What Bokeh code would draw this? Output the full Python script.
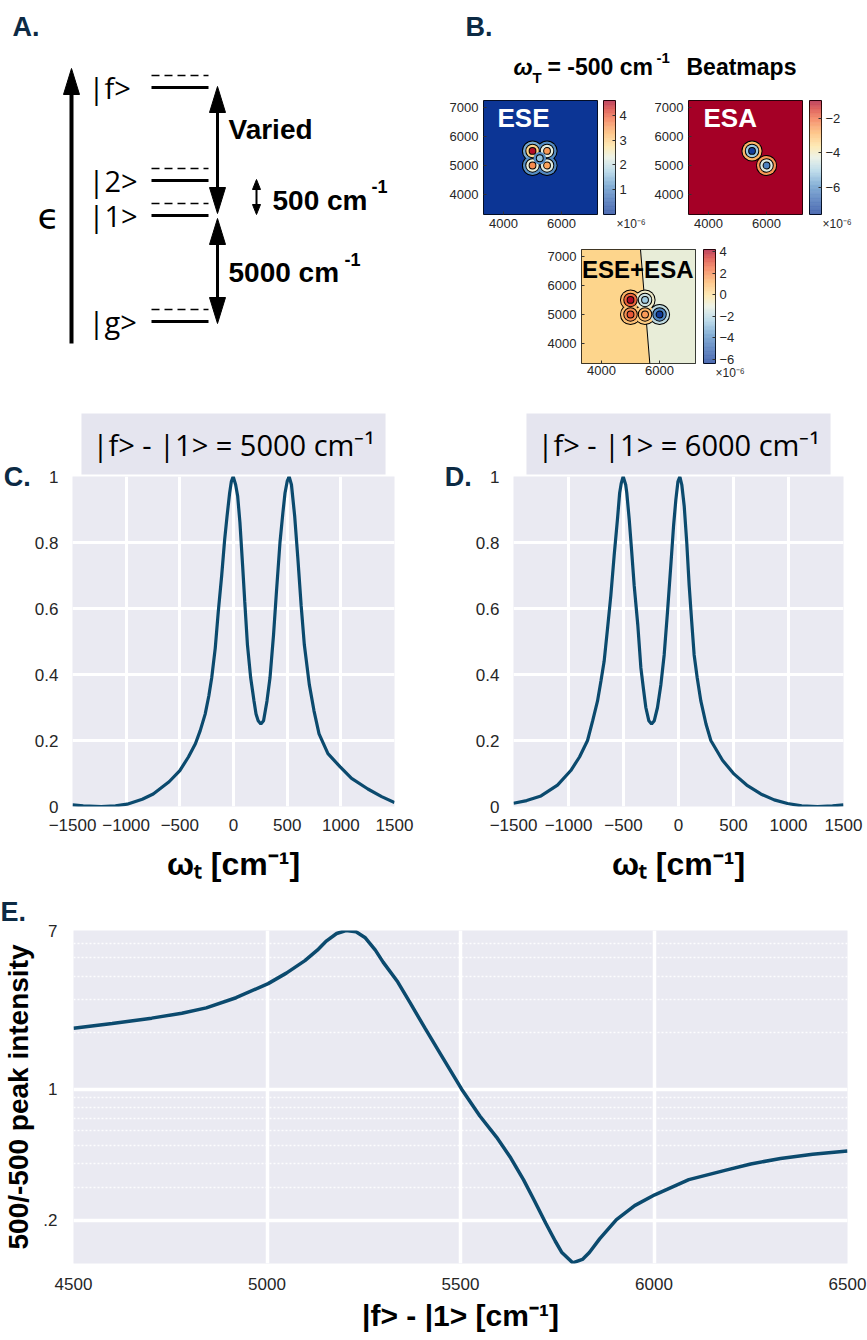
import numpy as np
from bokeh.plotting import figure
from bokeh.models import Range1d, FixedTicker, ColumnDataSource, Spacer, LinearColorMapper
from bokeh.layouts import column, row
from bokeh.transform import transform
from bokeh.core.properties import value
from bokeh.embed import file_html
from bokeh.resources import INLINE

# ---------------- data ----------------
# Panel A (energy-level scheme)
level_names = ["|g>", "|1>", "|2>", "|f>"]
gap_text_low = "5000 cm"
gap_text_mid = "500 cm"
gap_text_high = "Varied"

# Panel B (beatmaps, values x 1e-6)
bm_ticks_x = [4000, 6000]
bm_ticks_y = [4000, 5000, 6000, 7000]
bm_lo, bm_hi = 3310, 7240
ese_lim = [0.0, 4.6]
ese_ticks = [1, 2, 3, 4]
ese_bg = 0.03
ese_px = [5000, 5500, 5000, 5500, 5250]
ese_py = [5500, 5500, 5000, 5000, 5250]
ese_pv = [4.5, 3.5, 3.6, 3.4, 1.6]
esa_lim = [-7.6, -0.94]
esa_ticks = [-6, -4, -2]
esa_bg = -0.94
esa_px = [5500, 6000]
esa_py = [5500, 5000]
esa_pv = [-7.4, -6.2]
sum_lim = [-6.4, 4.2]
sum_ticks = [-6, -4, -2, 0, 2, 4]
sum_bg_left, sum_bg_right = 0.3, -1.0
sum_split_top, sum_split_bottom = 5344, 5665
sum_px = [5000, 5000, 5500, 5500, 6000]
sum_py = [5500, 5000, 5000, 5500, 5000]
sum_pv = [4.0, 2.8, 1.6, -2.5, -6.2]

# Panel C
c_x = [-1500, -1400, -1233, -1100, -991, -850, -748, -600, -500, -420, -355, -310, -264, -230, -203,
       -170, -142, -110, -82, -60, -36, -20, -3, 20, 39, 60, 85, 105, 130, 160, 191, 210, 230, 255,
       280, 312, 340, 373, 400, 433, 460, 480, 500, 518, 540, 570, 600, 630, 660, 706, 750, 797, 880,
       994, 1100, 1252, 1380, 1500]
c_y = [0.005, 0.002, 0.0, 0.002, 0.007, 0.022, 0.038, 0.075, 0.109, 0.15, 0.19, 0.23, 0.28, 0.335,
       0.39, 0.48, 0.59, 0.70, 0.81, 0.88, 0.95, 0.985, 1.0, 0.975, 0.94, 0.86, 0.73, 0.62, 0.49,
       0.39, 0.32, 0.28, 0.26, 0.25, 0.26, 0.32, 0.39, 0.52, 0.65, 0.80, 0.89, 0.95, 0.985, 1.0, 0.975,
       0.88, 0.75, 0.61, 0.49, 0.37, 0.29, 0.22, 0.16, 0.12, 0.085, 0.053, 0.03, 0.012]
# Panel D
d_x = [-1500, -1380, -1250, -1100, -979, -900, -827, -780, -736, -705, -676, -645, -615, -585,
       -555, -535, -520, -503, -480, -470, -448, -425, -403, -370, -342, -320, -297, -270, -245,
       -220, -191, -160, -130, -100, -70, -45, -24, -5, 12, 30, 52, 75, 97, 120, 142, 170, 203,
       250, 294, 400, 506, 620, 748, 870, 991, 1120, 1264, 1400, 1500]
d_y = [0.010, 0.018, 0.032, 0.065, 0.109, 0.15, 0.20, 0.26, 0.32, 0.38, 0.44, 0.54, 0.64, 0.76,
       0.87, 0.95, 0.98, 1.0, 0.975, 0.95, 0.87, 0.77, 0.67, 0.55, 0.42, 0.36, 0.30, 0.26, 0.25,
       0.26, 0.30, 0.37, 0.46, 0.59, 0.73, 0.85, 0.93, 0.985, 1.0, 0.975, 0.91, 0.80, 0.67, 0.56,
       0.46, 0.39, 0.32, 0.25, 0.20, 0.14, 0.098, 0.065, 0.038, 0.02, 0.009, 0.002, 0.0, 0.002, 0.005]
cd_xticks = [-1500, -1000, -500, 0, 500, 1000, 1500]
cd_yticks = [0, 0.2, 0.4, 0.6, 0.8, 1.0]

# Panel E
e_x = [4500, 4600, 4702, 4780, 4843, 4920, 5003, 5050, 5098, 5130, 5154, 5180, 5204, 5230, 5253,
       5280, 5300, 5338, 5370, 5409, 5450, 5503, 5550, 5593, 5630, 5663, 5690, 5720, 5745, 5762,
       5790, 5815, 5833, 5860, 5903, 5950, 6002, 6090, 6186, 6250, 6327, 6410, 6500]
e_y = [2.11, 2.24, 2.39, 2.54, 2.71, 3.07, 3.65, 4.15, 4.84, 5.5, 6.17, 6.75, 7.0, 6.9, 6.43,
       5.5, 4.75, 3.72, 2.88, 2.1, 1.52, 1.0, 0.72, 0.556, 0.43, 0.329, 0.257, 0.194, 0.155, 0.135,
       0.119, 0.124, 0.135, 0.16, 0.202, 0.24, 0.274, 0.33, 0.371, 0.40, 0.428, 0.45, 0.469]
e_xticks = [4500, 5000, 5500, 6000, 6500]
e_yticks = [0.2, 1, 7]
e_yminor = [0.3, 0.4, 0.5, 0.6, 0.7, 0.8, 0.9, 2, 3, 4, 5, 6]

# ---------------- style ----------------
SANS = "Liberation Sans"
BG = "#eaeaf2"
LINE = "#0b4a6e"
PANEL_COL = "#0c2a44"
TICK_COL = "#262626"

stops = [0.0, 0.12, 0.25, 0.38, 0.5, 0.6, 0.72, 0.84, 0.93, 1.0]
stop_cols = ["#0b3494", "#2f5fad", "#5b93c7", "#a6cfe3", "#e6eedf", "#fde29a",
             "#fdb163", "#f16a3e", "#d22d26", "#a50026"]
rgb = np.array([[int(c[i:i + 2], 16) for i in (1, 3, 5)] for c in stop_cols], float)
tt = np.linspace(0, 1, 256)
palette = ["#%02x%02x%02x" % tuple(int(round(np.interp(t, stops, rgb[:, k]))) for k in range(3)) for t in tt]


def try_set(obj, **kw):
    for k, v in kw.items():
        try:
            setattr(obj, k, v)
        except Exception:
            pass


def blank_fig(w, h):
    p = figure(width=w, height=h, x_range=Range1d(0, w), y_range=Range1d(h, 0),
               x_axis_location=None, y_axis_location=None, min_border=0,
               output_backend="svg", toolbar_location=None)
    p.grid.visible = False
    p.outline_line_color = None
    return p


def head(x, tip, direction, w, l):
    base = tip - direction * l
    return [x, x - w / 2, x + w / 2], [tip, base, base]


# ---------------- Panel A ----------------
pa = blank_fig(430, 380)
lvl_y = [321, 215, 180, 87]
pa.segment(x0=151, x1=208, y0=lvl_y, y1=lvl_y, line_width=3, line_color="black")
dash_y = [y - 12 for y in lvl_y]
pa.segment(x0=151, x1=208, y0=dash_y, y1=dash_y, line_width=1.3, line_color="black", line_dash="8 5")
pa.text(x=[88] * 4, y=lvl_y, text=level_names, text_font=value("Open Sans"),
        text_font_size="29px", text_baseline="middle", text_color="black")
hx, hy = [], []
pa.segment(x0=[71], x1=[71], y0=[343], y1=[90], line_width=4, line_color="black")
a = head(71, 68, -1, 16, 26); hx.append(a[0]); hy.append(a[1])
pa.segment(x0=[217], x1=[217], y0=[108], y1=[192], line_width=3, line_color="black")
a = head(217, 86, -1, 16, 26); hx.append(a[0]); hy.append(a[1])
a = head(217, 213, 1, 16, 26); hx.append(a[0]); hy.append(a[1])
pa.segment(x0=[217], x1=[217], y0=[240], y1=[300], line_width=3, line_color="black")
a = head(217, 218, -1, 16, 26); hx.append(a[0]); hy.append(a[1])
a = head(217, 323, 1, 16, 26); hx.append(a[0]); hy.append(a[1])
pa.segment(x0=[256], x1=[256], y0=[186], y1=[207], line_width=2, line_color="black")
a = head(256, 179, -1, 8, 10); hx.append(a[0]); hy.append(a[1])
a = head(256, 214, 1, 8, 10); hx.append(a[0]); hy.append(a[1])
pa.patches(xs=hx, ys=hy, fill_color="black", line_color="black", line_width=1)
pa.text(x=[228], y=[129], text=[gap_text_high], text_font=value(SANS), text_font_style="bold",
        text_font_size="28px", text_baseline="middle")
pa.text(x=[272, 228], y=[200, 272], text=[gap_text_mid, gap_text_low], text_font=value(SANS),
        text_font_style="bold", text_font_size="28px", text_baseline="middle")
pa.text(x=[371, 344], y=[186, 259], text=["-1", "-1"], text_font=value(SANS),
        text_font_style="bold", text_font_size="18px", text_baseline="middle")
pa.text(x=[48], y=[216], text=["\u03f5"], text_font=value("DejaVu Sans"), text_font_size="36px",
        text_align="center", text_baseline="middle")
pa.text(x=[12], y=[26], text=["A."], text_font=value(SANS), text_font_style="bold",
        text_font_size="27px", text_baseline="middle", text_color=PANEL_COL)

# ---------------- Panel B header ----------------
pbh = blank_fig(437, 95)
pbh.text(x=[35], y=[26], text=["B."], text_font=value(SANS), text_font_style="bold",
         text_font_size="27px", text_baseline="middle", text_color=PANEL_COL)
pbh.text(x=[83], y=[66], text=["\u03c9"], text_font=value(SANS), text_font_style="bold italic",
         text_font_size="23px", text_baseline="middle")
pbh.text(x=[102], y=[77], text=["T"], text_font=value(SANS), text_font_style="bold",
         text_font_size="15px", text_baseline="middle")
pbh.text(x=[117], y=[66], text=["= -500 cm"], text_font=value(SANS), text_font_style="bold",
         text_font_size="23px", text_baseline="middle")
pbh.text(x=[226], y=[57], text=["-1"], text_font=value(SANS), text_font_style="bold",
         text_font_size="15px", text_baseline="middle")
pbh.text(x=[256], y=[66], text=["Beatmaps"], text_font=value(SANS), text_font_style="bold",
         text_font_size="23px", text_baseline="middle")


def beat_fig(w, h, left, right, bottom, bottom_standoff=4):
    p = figure(width=w, height=h, x_range=Range1d(bm_lo, bm_hi), y_range=Range1d(bm_lo, bm_hi),
               min_border_left=left, min_border_right=right, min_border_top=5,
               min_border_bottom=bottom, output_backend="svg", toolbar_location=None)
    p.grid.visible = False
    p.outline_line_color = "black"
    p.outline_line_width = 1
    p.xaxis.ticker = FixedTicker(ticks=bm_ticks_x)
    p.yaxis.ticker = FixedTicker(ticks=bm_ticks_y)
    p.axis.major_label_text_font_size = "13px"
    p.axis.major_label_text_font = SANS
    p.axis.major_label_text_color = TICK_COL
    p.axis.major_tick_in = 3
    p.axis.major_tick_out = 0
    p.axis.major_tick_line_color = "#333333"
    p.axis.minor_tick_line_color = None
    p.axis.axis_line_color = None
    p.yaxis.major_label_standoff = 5
    p.xaxis.major_label_standoff = bottom_standoff
    return p


def cbar_fig(w, h, bottom, lim, ticks, offset):
    p = figure(width=w, height=h, x_range=Range1d(0, 1), y_range=Range1d(lim[0], lim[1]),
               x_axis_location=None, y_axis_location="right", title_location="below",
               min_border_left=0, min_border_right=w - 12,
               min_border_top=5, min_border_bottom=bottom, output_backend="svg",
               toolbar_location=None)
    edges = np.linspace(lim[0], lim[1], len(palette) + 1)
    p.quad(left=0, right=1, bottom=edges[:-1], top=edges[1:], fill_color=palette, line_color=None)
    p.grid.visible = False
    p.outline_line_color = "black"
    p.yaxis.ticker = FixedTicker(ticks=ticks)
    p.yaxis.major_label_text_font_size = "13px"
    p.yaxis.major_label_text_font = SANS
    p.yaxis.major_label_text_color = TICK_COL
    p.yaxis.major_tick_in = 3
    p.yaxis.major_tick_out = 0
    p.yaxis.major_tick_line_color = "#333333"
    p.yaxis.minor_tick_line_color = None
    p.yaxis.axis_line_color = None
    p.yaxis.major_label_standoff = 4
    p.title.text = "\u00d710\u207b\u2076"
    p.title.align = "left"
    p.title.offset = offset
    p.title.standoff = 0
    p.title.text_font = SANS
    p.title.text_font_size = "12px"
    p.title.text_font_style = "normal"
    p.title.text_color = TICK_COL
    return p


def draw_peaks(p, mapper, xs, ys, vs, bg):
    fracs = [0.3, 0.65, 1.0]
    radii = [330, 215, 100]
    for frac, r in zip(fracs, radii):
        src = ColumnDataSource(dict(x=xs, y=ys, v=[bg + (v - bg) * frac for v in vs]))
        p.circle("x", "y", radius=r, source=src, fill_color=None, line_color="black", line_width=2)
        p.circle("x", "y", radius=r, source=src, fill_color=transform("v", mapper), line_color=None)


def bg_quad(p, mapper, v):
    src = ColumnDataSource(dict(l=[bm_lo], r=[bm_hi], b=[bm_lo], t=[bm_hi], v=[v]))
    p.quad(left="l", right="r", bottom="b", top="t", fill_color=transform("v", mapper),
           line_color=None, source=src)


ese_map = LinearColorMapper(palette=palette, low=ese_lim[0], high=ese_lim[1])
esa_map = LinearColorMapper(palette=palette, low=esa_lim[0], high=esa_lim[1])
sum_map = LinearColorMapper(palette=palette, low=sum_lim[0], high=sum_lim[1])

ese = beat_fig(173, 149, 53, 6, 30)
bg_quad(ese, ese_map, ese_bg)
draw_peaks(ese, ese_map, ese_px, ese_py, ese_pv, ese_bg)
ese.text(x=[3793], y=[7171], text=["ESE"], text_font=value(SANS), text_font_style="bold",
         text_font_size="26px", text_color="white", text_baseline="top")
cb_ese = cbar_fig(45, 149, 30, ese_lim, ese_ticks, 13)

esa = beat_fig(161, 149, 40, 7, 30)
bg_quad(esa, esa_map, esa_bg)
draw_peaks(esa, esa_map, esa_px, esa_py, esa_pv, esa_bg)
esa.text(x=[3827], y=[7171], text=["ESA"], text_font=value(SANS), text_font_style="bold",
         text_font_size="26px", text_color="white", text_baseline="top")
cb_esa = cbar_fig(58, 149, 30, esa_lim, esa_ticks, 13)

sm = beat_fig(173, 136, 51, 8, 17, bottom_standoff=2)
sm.patches(xs="xs", ys="ys", fill_color=transform("v", sum_map), line_color=None,
           source=ColumnDataSource(dict(
               xs=[[bm_lo, sum_split_top, sum_split_bottom, bm_lo],
                   [sum_split_top, bm_hi, bm_hi, sum_split_bottom]],
               ys=[[bm_hi, bm_hi, bm_lo, bm_lo], [bm_hi, bm_hi, bm_lo, bm_lo]],
               v=[sum_bg_left, sum_bg_right])))
sm.line(x=[sum_split_top, sum_split_bottom], y=[bm_hi, bm_lo], line_color="black", line_width=1)
draw_peaks(sm, sum_map, sum_px, sum_py, sum_pv, 0.0)
sm.text(x=[bm_lo + 20], y=[7033], text=["ESE+ESA"], text_font=value(SANS), text_font_style="bold",
        text_font_size="24px", text_color="black", text_baseline="top")
cb_sum = cbar_fig(46, 136, 17, sum_lim, sum_ticks, 12)


# ---------------- Panels C, D ----------------
def curve_fig(w, left, right, xs, ys, title, title_offset, letter):
    p = figure(width=w, height=510, x_range=Range1d(-1500, 1500), y_range=Range1d(0, 1),
               min_border_left=left, min_border_right=right, min_border_top=96,
               min_border_bottom=84, output_backend="svg", toolbar_location=None)
    p.background_fill_color = BG
    p.outline_line_color = None
    p.title.text = title
    p.title.align = "center"
    p.title.offset = title_offset
    p.title.standoff = 4
    p.title.text_font = "Open Sans"
    p.title.text_font_size = "29px"
    p.title.text_font_style = "normal"
    p.title.text_color = "black"
    p.title.background_fill_color = "#e5e5ef"
    try_set(p.title, padding=11)
    p.xaxis.ticker = FixedTicker(ticks=cd_xticks)
    p.yaxis.ticker = FixedTicker(ticks=cd_yticks)
    p.yaxis.major_label_overrides = {0: "0", 0.2: "0.2", 0.4: "0.4", 0.6: "0.6", 0.8: "0.8", 1.0: "1"}
    p.grid.grid_line_color = "white"
    p.grid.grid_line_width = 3
    p.axis.axis_line_color = None
    p.axis.major_tick_line_color = None
    p.axis.minor_tick_line_color = None
    p.axis.major_label_text_font = SANS
    p.axis.major_label_text_font_size = "17px"
    p.axis.major_label_text_color = TICK_COL
    p.yaxis.major_label_standoff = 8
    p.xaxis.major_label_standoff = 6
    p.xaxis.axis_label = "\u03c9\u209c [cm\u207b\u00b9]"
    p.xaxis.axis_label_text_font = SANS
    p.xaxis.axis_label_text_font_size = "32px"
    p.xaxis.axis_label_text_font_style = "bold"
    p.xaxis.axis_label_text_color = "black"
    p.xaxis.axis_label_standoff = 12
    p.yaxis.axis_label = letter
    p.yaxis.axis_label_orientation = "horizontal"
    p.yaxis.axis_label_text_font = SANS
    p.yaxis.axis_label_text_font_size = "27px"
    p.yaxis.axis_label_text_font_style = "bold"
    p.yaxis.axis_label_text_color = PANEL_COL
    p.yaxis.axis_label_standoff = 1
    try_set(p.yaxis[0], axis_label_align="end")
    p.line(xs, ys, line_color=LINE, line_width=3.2)
    return p


pc = curve_fig(440, 64, 46, c_x, c_y, "|f> - |1> = 5000 cm\u207b\u00b9", 8, "C.")
pd = curve_fig(427, 73, 24, d_x, d_y, "|f> - |1> = 6000 cm\u207b\u00b9", 0, "D.")

# ---------------- Panel E ----------------
e_lo, e_hi = 0.118, 7.0
pe = figure(width=867, height=450, x_range=Range1d(4500, 6500), y_range=Range1d(e_lo, e_hi),
            y_axis_type="log", min_border_left=60, min_border_right=20, min_border_top=36,
            min_border_bottom=77, output_backend="svg", toolbar_location=None)
pe.background_fill_color = BG
pe.outline_line_color = None
pe.title.text = "E."
pe.title.align = "left"
pe.title.offset = -73
pe.title.standoff = 8
pe.title.text_font = SANS
pe.title.text_font_size = "27px"
pe.title.text_font_style = "bold"
pe.title.text_color = PANEL_COL
pe.xaxis.ticker = FixedTicker(ticks=e_xticks)
pe.yaxis.ticker = FixedTicker(ticks=e_yticks, minor_ticks=e_yminor)
pe.yaxis.major_label_overrides = {0.2: ".2", 1: "1", 7: "7"}
pe.grid.grid_line_color = "white"
pe.grid.grid_line_width = 3.5
pe.ygrid.minor_grid_line_color = "white"
pe.ygrid.minor_grid_line_dash = "2 2"
pe.ygrid.minor_grid_line_width = 1.5
pe.ygrid.minor_grid_line_alpha = 0.9
pe.axis.axis_line_color = None
pe.axis.major_tick_line_color = None
pe.axis.minor_tick_line_color = None
pe.axis.major_label_text_font = SANS
pe.axis.major_label_text_font_size = "17px"
pe.axis.major_label_text_color = TICK_COL
pe.yaxis.major_label_standoff = 10
pe.xaxis.major_label_standoff = 8
pe.xaxis.axis_label = "|f> - |1> [cm\u207b\u00b9]"
pe.yaxis.axis_label = "500/-500 peak intensity"
pe.axis.axis_label_text_font = SANS
pe.axis.axis_label_text_font_style = "bold"
pe.axis.axis_label_text_color = "black"
pe.xaxis.axis_label_text_font_size = "30px"
pe.yaxis.axis_label_text_font_size = "28px"
pe.xaxis.axis_label_standoff = 6
pe.yaxis.axis_label_standoff = 6
pe.line(e_x, e_y, line_color=LINE, line_width=3.5)

# ---------------- layout ----------------
colB = column(pbh,
              row(ese, cb_ese, esa, cb_esa),
              row(Spacer(width=100, height=136), sm, cb_sum, Spacer(width=118, height=136)))
layout = column(row(pa, colB), row(pc, pd), pe)

open("out.html", "w").write(file_html(layout, INLINE))
